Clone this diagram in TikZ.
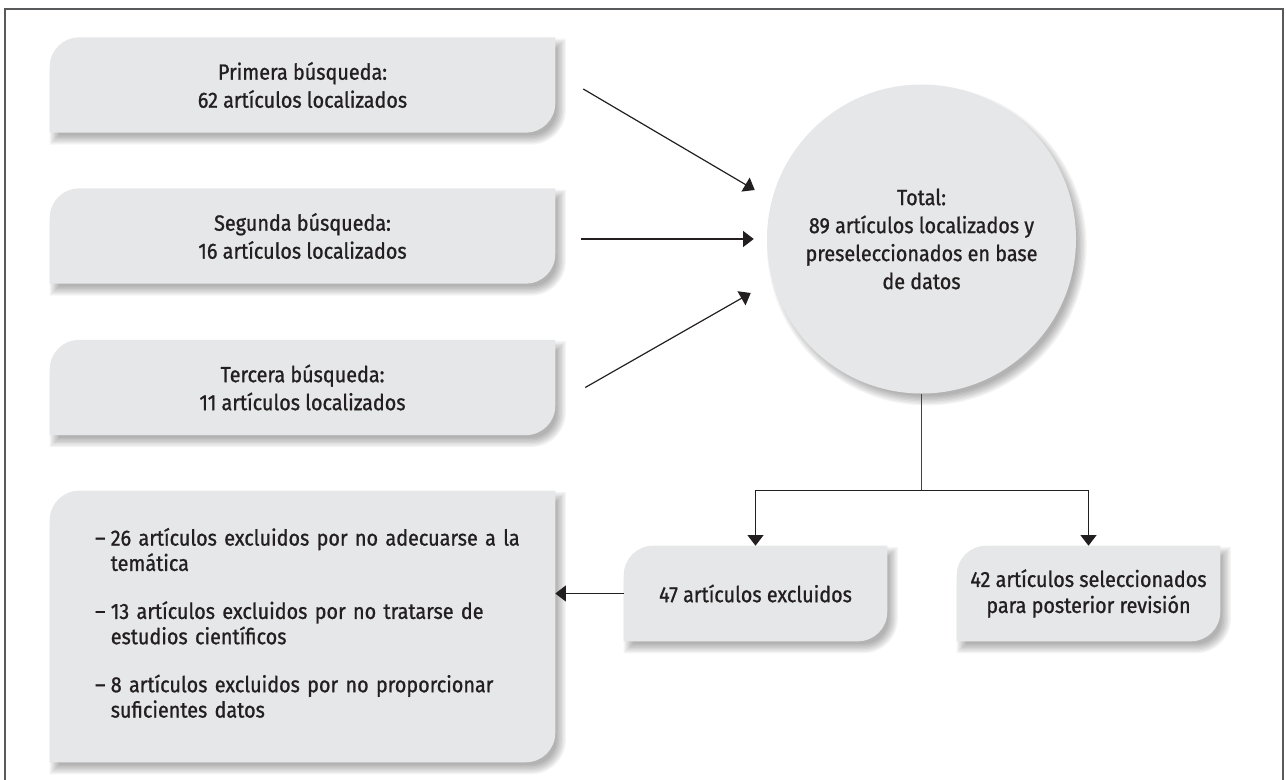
\documentclass[tikz,border=0pt]{standalone}
\usepackage{fontspec}
\setmainfont{Fira Sans}[FakeStretch=0.9,FakeBold=1]
\usetikzlibrary{arrows.meta,backgrounds,calc}

\definecolor{boxgray}{HTML}{E6E7E8}
\definecolor{ink}{HTML}{231F20}
\definecolor{framegray}{HTML}{58595B}

\tikzset{
  box/.style={rectangle, inner sep=0pt, align=center, text=ink,
    font=\fontsize{16.5pt}{21pt}\selectfont},
  boxfill/.style={fill=boxgray},
  boxshadow/.style={fill=black, fill opacity=0.042},
  arr/.style={draw=ink, line width=0.9pt, -{Triangle[length=8pt,width=12pt]}},
  conn/.style={draw=ink!85, line width=0.9pt}
}

\begin{document}
\begin{tikzpicture}[x=0.75pt,y=0.75pt]
\useasboundingbox (0,0) rectangle (1286,-780);

\draw [framegray, line width=1.2pt] (5,-780) -- (5,-9) -- (1283,-9) -- (1283,-780);

% searches
\node[box, minimum width=378.75pt, minimum height=71pt] (p1) at (302.5,-85)
  {Primera búsqueda:\\62 artículos localizados};
\node[box, minimum width=378.75pt, minimum height=71pt] (p2) at (302.5,-236)
  {Segunda búsqueda:\\16 artículos localizados};
\node[box, minimum width=378.75pt, minimum height=71pt] (p3) at (302.5,-387.5)
  {Tercera búsqueda:\\11 artículos localizados};

\node[box, minimum width=378.75pt, minimum height=203.25pt, text width=311pt, align=left,
  font=\fontsize{16.5pt}{19pt}\selectfont] (excl) at (302.5,-626.5)
  {\begin{tabular}{@{}l@{\hspace{4pt}}l@{}}
   –&26 artículos excluidos por no adecuarse a la\\
    &temática\\[17pt]
   –&13 artículos excluidos por no tratarse de\\
    &estudios científicos\\[17pt]
   –&8 artículos excluidos por no proporcionar\\
    &suficientes datos
   \end{tabular}};

\node[box, circle, minimum size=231.75pt] (total) at (921.5,-239)
  {Total:\\89 artículos localizados y\\preseleccionados en base\\de datos};

\node[box, minimum width=197.25pt, minimum height=71.25pt] (n47) at (755.5,-593.5)
  {47 artículos excluidos};
\node[box, minimum width=197.25pt, minimum height=71.25pt,
  font=\fontsize{16.5pt}{19.5pt}\selectfont] (n42) at (1088.5,-593.5)
  {42 artículos seleccionados\\para posterior revisión};

% grey shapes with soft shadow
\begin{scope}[on background layer]
  \foreach \n in {p1,p2,p3,excl,n47,n42}{
    \foreach \g in {-3,...,4}{
      \fill[boxshadow, transform canvas={xshift=4pt,yshift=-5pt}]
        ([xshift=22pt,yshift=\g pt]\n.north west) -- ([xshift=\g pt,yshift=\g pt]\n.north east)
        -- ([xshift=\g pt,yshift=22pt]\n.south east) arc[start angle=0,end angle=-90,radius=22pt+\g pt]
        -- ([xshift=-\g pt,yshift=-\g pt]\n.south west) -- ([xshift=-\g pt,yshift=-22pt]\n.north west)
        arc[start angle=180,end angle=90,radius=22pt+\g pt] -- cycle;
    }
  }
  \foreach \g in {-3,...,4}
    \fill[boxshadow, transform canvas={xshift=4pt,yshift=-5pt}] (total.center) circle[radius=115.875pt+\g pt];
  \foreach \n in {p1,p2,p3,excl,n47,n42}
    \fill[boxfill] ([xshift=22pt]\n.north west) -- (\n.north east) -- ([yshift=22pt]\n.south east)
      arc[start angle=0,end angle=-90,radius=22pt] -- (\n.south west) -- ([yshift=-22pt]\n.north west)
      arc[start angle=180,end angle=90,radius=22pt] -- cycle;
  \fill[boxfill] (total.center) circle[radius=115.875pt];
\end{scope}

% connectors
\draw[arr] ([shift={(28,-4)}]p1.east) -- ([shift={(-12,49)}]total.west);
\draw[arr] ([shift={(26,-3)}]p2.east) -- ([shift={(-13,0)}]total.west);
\draw[arr] ([shift={(30,0)}]p3.east) -- ([shift={(-16,-54)}]total.west);

\coordinate (split) at ($(total.south)+(0,-97)$);
\draw[conn] (total.south) -- (split);
\draw[arr] (split) -| (n47.north);
\draw[arr] (split) -| (n42.north);
\draw[arr] (n47.west) -- (n47.west -| excl.east);

\end{tikzpicture}
\end{document}
